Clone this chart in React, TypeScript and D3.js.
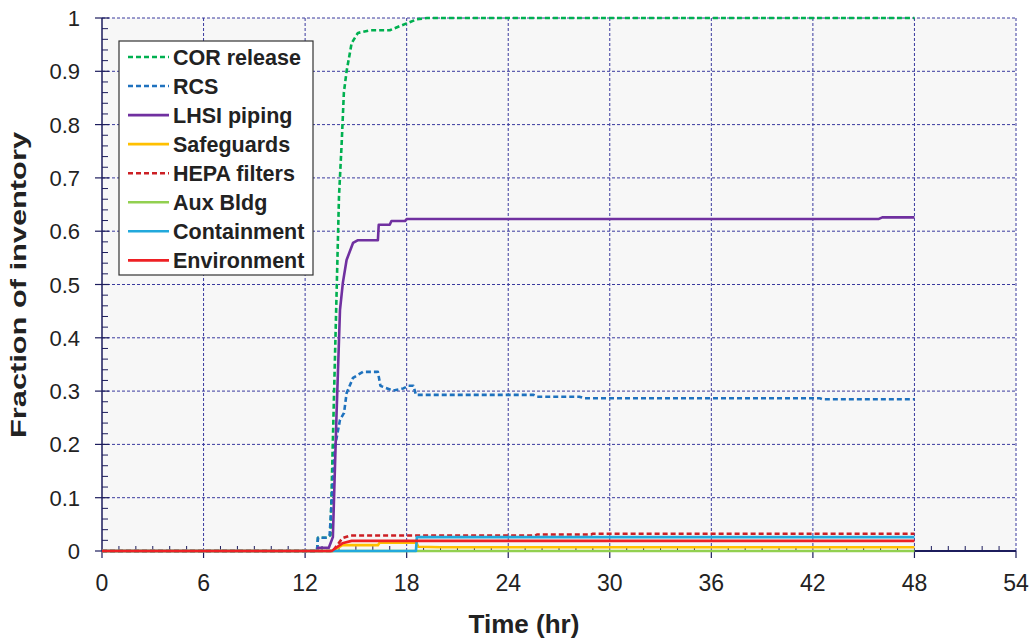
import React from "react";
import * as d3 from "d3";

const xTicks = [0, 6, 12, 18, 24, 30, 36, 42, 48, 54];
const yTicks = [0, 0.1, 0.2, 0.3, 0.4, 0.5, 0.6, 0.7, 0.8, 0.9, 1];
const yTickLabels = ["0", "0.1", "0.2", "0.3", "0.4", "0.5", "0.6", "0.7", "0.8", "0.9", "1"];

const corRelease: [number, number][] = [
  [0, 0], [12.7, 0], [12.76, 0.025], [13.3, 0.025], [13.5, 0.03], [13.88, 0.51], [14.0, 0.664],
  [14.16, 0.765], [14.29, 0.86], [14.45, 0.9], [14.75, 0.953], [15.12, 0.972], [15.83, 0.977],
  [17.0, 0.977], [18.0, 0.99], [18.6, 0.9975], [19.2, 1.0], [48, 1.0],
];
const rcs: [number, number][] = [
  [0, 0], [12.7, 0], [12.76, 0.025], [13.29, 0.025], [13.45, 0.03], [13.76, 0.195], [14.06, 0.246],
  [14.3, 0.259], [14.45, 0.296], [14.83, 0.325], [15.42, 0.336], [16.3, 0.336], [16.45, 0.31],
  [16.6, 0.308], [17.19, 0.301], [17.8, 0.305], [18.1, 0.31], [18.4, 0.31], [18.55, 0.293],
  [25.5, 0.293], [25.7, 0.2895], [28.2, 0.2895], [28.5, 0.2865], [42.4, 0.2865], [42.6, 0.2846], [48, 0.2846],
];
const lhsiPiping: [number, number][] = [
  [0, 0], [12.7, 0], [12.76, 0.006], [13.4, 0.006], [13.64, 0.026], [13.86, 0.26], [14.06, 0.452],
  [14.23, 0.503], [14.45, 0.546], [14.83, 0.578], [15.1, 0.583], [16.3, 0.583], [16.35, 0.612],
  [17.0, 0.612], [17.1, 0.619], [17.9, 0.619], [18.0, 0.623], [45.9, 0.623], [46.1, 0.626], [48, 0.626],
];
const safeguards: [number, number][] = [
  [0, 0], [13.64, 0], [14.2, 0.011], [16.3, 0.011], [16.4, 0.0156], [18.58, 0.0156], [18.68, 0.008],
  [20, 0.007], [48, 0.007],
];
const hepaFilters: [number, number][] = [
  [0, 0], [13.64, 0], [14.2, 0.024], [14.65, 0.029], [25.6, 0.029], [25.7, 0.031], [28.9, 0.031],
  [29.0, 0.0325], [48, 0.0325],
];
const auxBldg: [number, number][] = [[0, 0], [48, 0]];
const containment: [number, number][] = [[0, 0], [18.55, 0], [18.6, 0.026], [48, 0.026]];
const environment: [number, number][] = [
  [0, 0], [13.57, 0], [14.2, 0.0144], [14.75, 0.019], [48, 0.019],
];

const seriesNames = ["COR release", "RCS", "LHSI piping", "Safeguards", "HEPA filters", "Aux Bldg", "Containment", "Environment"];
const seriesData = [corRelease, rcs, lhsiPiping, safeguards, hepaFilters, auxBldg, containment, environment];
const seriesColors = ["#00b050", "#1f72be", "#7030a0", "#ffc000", "#cc1f24", "#92d050", "#22a9dc", "#ee2024"];
const seriesDashed = [true, true, false, false, true, false, false, false];

export default function App() {
  const left = 102, right = 1016, top = 18, bottom = 551;
  const x = d3.scaleLinear().domain([0, 54]).range([left, right]);
  const y = d3.scaleLinear().domain([0, 1]).range([bottom, top]);
  const line = d3.line<[number, number]>().x((d) => x(d[0])).y((d) => y(d[1]));
  const axisColor = "#1c1c5c";
  const gridColor = "#3a3a9e";
  const minorY = d3.range(0, 50).map((i) => i * 0.02).filter((v, i) => i % 5 !== 0);
  const minorX = d3.range(0, 54).filter((v) => v % 6 !== 0);
  const font = "'Liberation Sans', Arial, sans-serif";

  const legX = 119, legY = 41, legW = 194, legH = 234;
  const entryY0 = 57, entryStep = 29.05;

  return (
    <div style={{ position: "absolute", left: 0, top: 0 }}>
      <svg width={1034} height={643} style={{ display: "block", background: "#ffffff" }}>
        <rect x={left} y={top} width={right - left} height={bottom - top} fill="#f7f7f7" />
        {yTicks.filter((v) => v > 0).map((v) => (
          <line key={"gy" + v} x1={left} x2={right} y1={y(v)} y2={y(v)} stroke={gridColor} strokeWidth={1} strokeDasharray="3,2" />
        ))}
        {xTicks.filter((v) => v > 0).map((v) => (
          <line key={"gx" + v} x1={x(v)} x2={x(v)} y1={top} y2={bottom} stroke={gridColor} strokeWidth={1} strokeDasharray="3,2" />
        ))}
        <line x1={left} x2={left} y1={top} y2={bottom} stroke={axisColor} strokeWidth={1.5} />
        <line x1={left} x2={right} y1={bottom} y2={bottom} stroke={axisColor} strokeWidth={2} />
        {yTicks.map((v) => (
          <line key={"ty" + v} x1={left - 7} x2={left + 7} y1={y(v)} y2={y(v)} stroke={axisColor} strokeWidth={1.2} />
        ))}
        {minorY.map((v) => (
          <line key={"my" + v} x1={left} x2={left + 6} y1={y(v)} y2={y(v)} stroke={axisColor} strokeWidth={1} />
        ))}
        {xTicks.map((v) => (
          <line key={"tx" + v} x1={x(v)} x2={x(v)} y1={bottom} y2={bottom + 7} stroke={axisColor} strokeWidth={1.2} />
        ))}
        {minorX.map((v) => (
          <line key={"mx" + v} x1={x(v)} x2={x(v)} y1={bottom} y2={bottom - 5} stroke={axisColor} strokeWidth={1} />
        ))}
        {seriesData.map((d, i) => (
          <path key={"s" + i} d={line(d) || ""} fill="none" stroke={seriesColors[i]} strokeWidth={2.6}
            strokeDasharray={seriesDashed[i] ? "5,3" : undefined} strokeLinejoin="round" />
        ))}
        {yTicks.map((v, i) => (
          <text key={"ly" + v} x={80} y={y(v) + 8} textAnchor="end" fontFamily={font} fontSize={22} fill="#222">{yTickLabels[i]}</text>
        ))}
        {xTicks.map((v) => (
          <text key={"lx" + v} x={x(v)} y={591} textAnchor="middle" fontFamily={font} fontSize={23} fill="#222">{v}</text>
        ))}
        <text x={524} y={633} textAnchor="middle" fontFamily={font} fontSize={26} fontWeight="bold" fill="#222">Time (hr)</text>
        <text transform="translate(26,285) rotate(-90)" textAnchor="middle" fontFamily={font} fontSize={22} fontWeight="bold" fill="#222"
          textLength={306} lengthAdjust="spacingAndGlyphs">Fraction of inventory</text>
        <rect x={legX} y={legY} width={legW} height={legH} fill="#ffffff" stroke="#333" strokeWidth={1.2} />
        {seriesNames.map((name, i) => {
          const ly = entryY0 + i * entryStep;
          return (
            <g key={"lg" + i}>
              <line x1={128} x2={169} y1={ly} y2={ly} stroke={seriesColors[i]} strokeWidth={2.6}
                strokeDasharray={seriesDashed[i] ? "5,3" : undefined} />
              <text x={173} y={ly + 7.5} fontFamily={font} fontSize={21.5} fontWeight="bold" fill="#222">{name}</text>
            </g>
          );
        })}
      </svg>
    </div>
  );
}
